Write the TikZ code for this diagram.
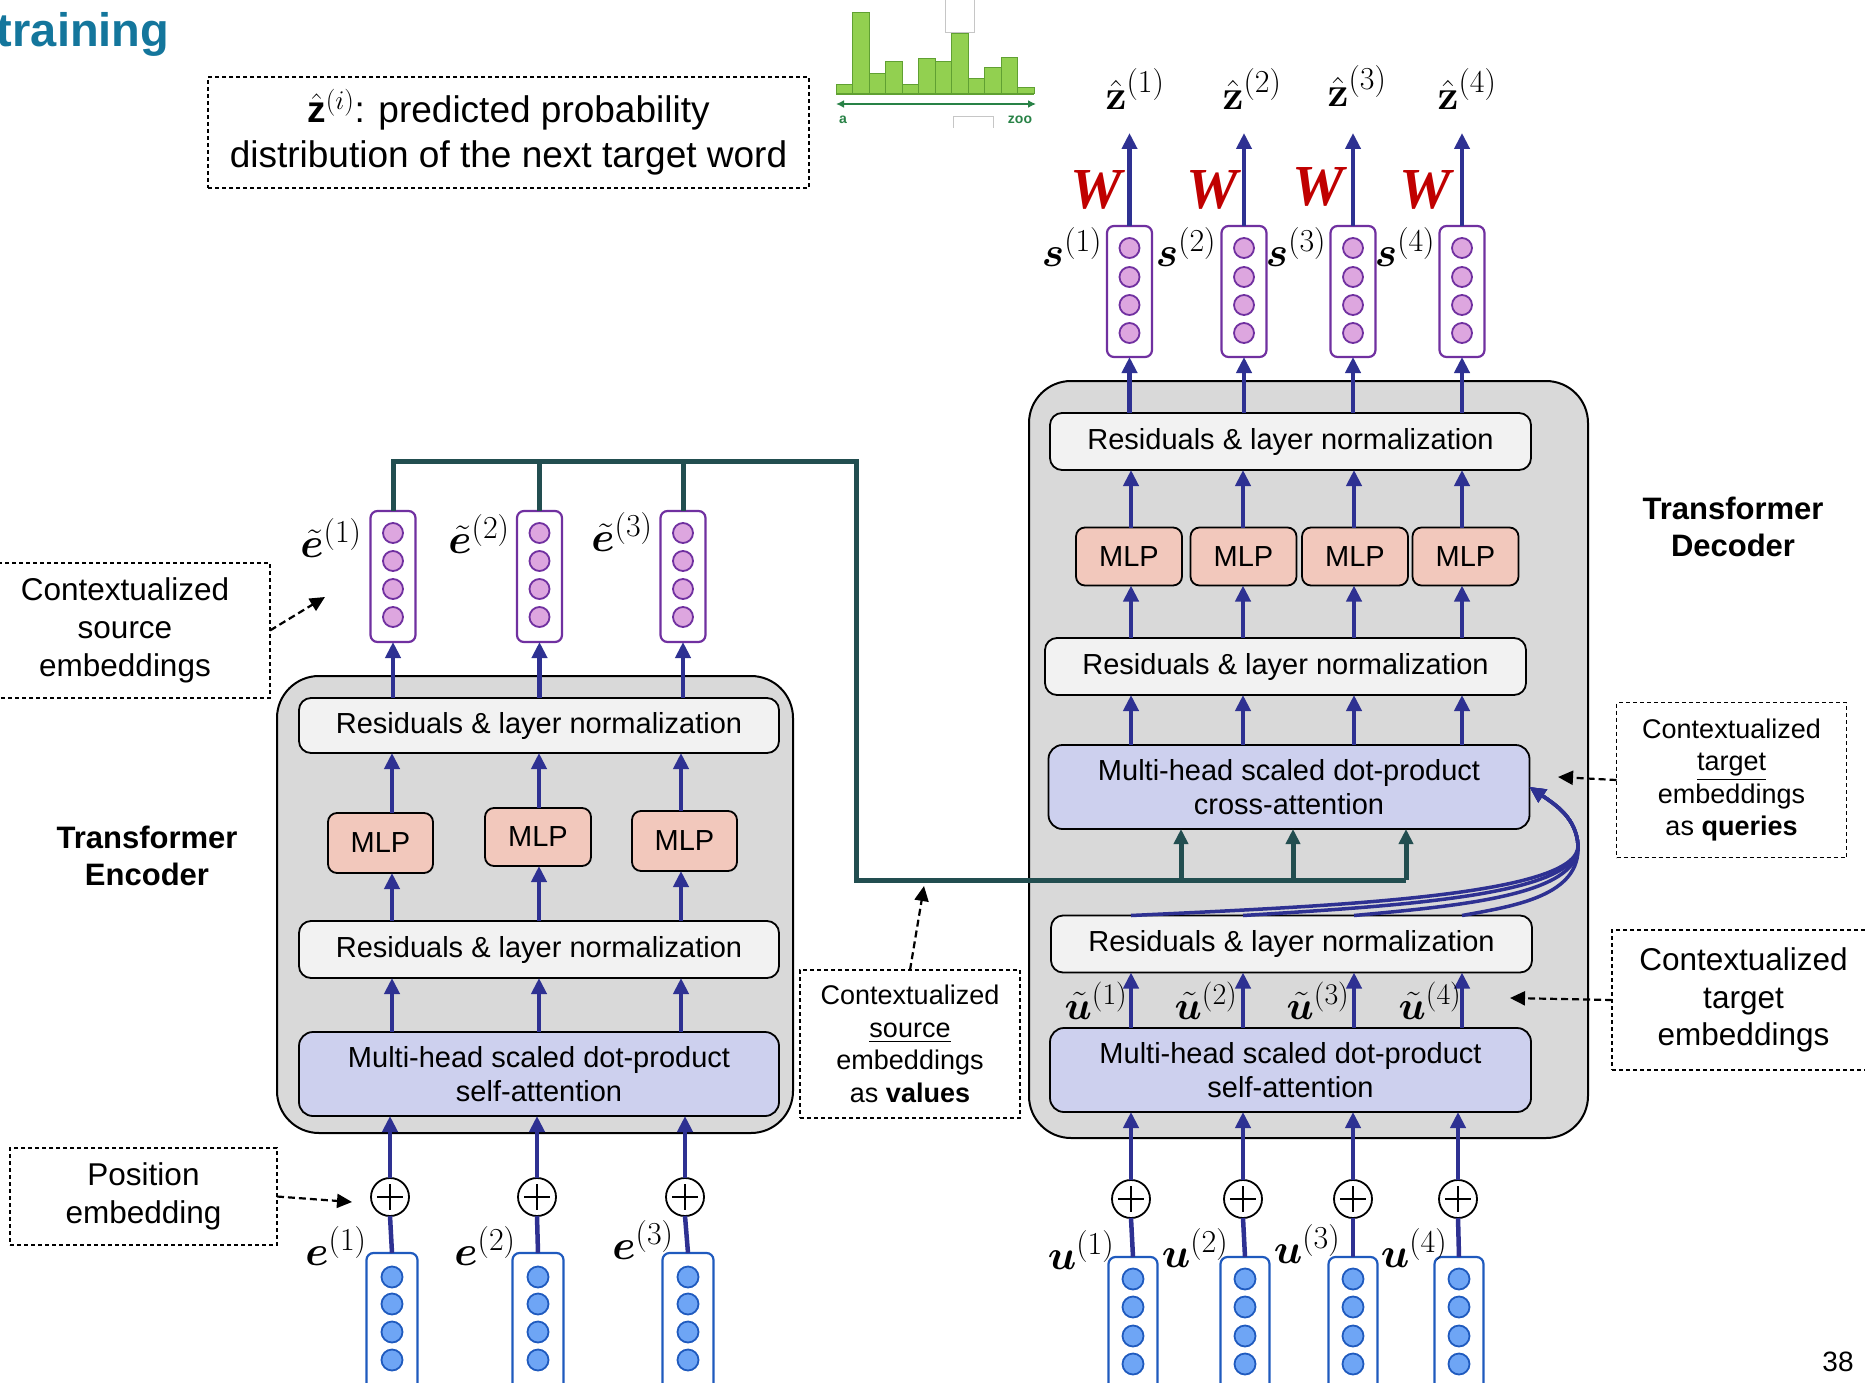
\RequirePackage{fix-cm}
\documentclass[tikz,border=0pt]{standalone}
\usepackage{amsmath}
\usepackage{bm}
\usepackage{fontspec}
\setmainfont{Liberation Sans}
\newfontfamily\serifW{Liberation Serif}
\usetikzlibrary{arrows.meta,calc}
\DeclareMathSizes{42}{42}{32}{24}
\DeclareMathSizes{40}{40}{30}{22}
\DeclareMathSizes{37}{37}{27}{20}
\definecolor{arrblue}{RGB}{46,49,146}
\definecolor{tealc}{RGB}{34,78,80}
\definecolor{boxgray}{RGB}{217,217,217}
\definecolor{resgray}{RGB}{242,242,242}
\definecolor{mlpfill}{RGB}{242,200,188}
\definecolor{attfill}{RGB}{205,208,238}
\definecolor{vpurple}{RGB}{112,48,160}
\definecolor{vplum}{RGB}{221,166,223}
\definecolor{vblue}{RGB}{31,90,190}
\definecolor{vlblue}{RGB}{110,165,245}
\definecolor{wred}{RGB}{192,0,0}
\definecolor{titleblue}{RGB}{20,118,156}
\definecolor{histg}{RGB}{146,208,80}
\definecolor{histgd}{RGB}{96,160,50}
\definecolor{histarr}{RGB}{40,130,70}
\newcommand{\fsz}[2]{\fontsize{#1}{#2}\selectfont}
\begin{document}
\begin{tikzpicture}[x=1pt,y=-1pt,
 every node/.style={inner sep=0pt,outer sep=0pt},
 outerbox/.style={draw=black,line width=2pt,fill=boxgray,rounded corners=42pt},
 resbox/.style={draw=black,line width=1.8pt,fill=resgray,rounded corners=12pt,minimum width=481pt,minimum height=57pt,font=\fsz{29}{34.5}},
 attbox/.style={draw=black,line width=1.8pt,fill=attfill,rounded corners=14pt,minimum width=481pt,minimum height=84pt,font=\fsz{29}{34.5},align=center},
 mlpbox/.style={draw=black,line width=1.8pt,fill=mlpfill,rounded corners=9pt,minimum width=106pt,minimum height=58pt,font=\fsz{29}{34.5}},
 vecP/.style={draw=vpurple,line width=2.2pt,fill=white,rounded corners=7pt,minimum width=45pt,minimum height=131pt},
 dotP/.style={circle,draw=vpurple,line width=1.8pt,fill=vplum,minimum size=20pt},
 vecB/.style={draw=vblue,line width=2.2pt,fill=white,rounded corners=7pt,minimum width=51pt,minimum height=150pt},
 dotB/.style={circle,draw=vblue,line width=1.8pt,fill=vlblue,minimum size=21pt},
 plusnode/.style={circle,draw=black,line width=1.8pt,fill=white,minimum size=38pt,
   path picture={\draw[line width=1.8pt] ([yshift=-6pt]path picture bounding box.north) -- ([yshift=6pt]path picture bounding box.south);
                 \draw[line width=1.8pt] ([xshift=6pt]path picture bounding box.west) -- ([xshift=-6pt]path picture bounding box.east);}},
 barr/.style={draw=arrblue,line width=4.5pt,-{Triangle[width=15pt,length=16pt]}},
 bline/.style={draw=arrblue,line width=4.5pt},
 curvearr/.style={draw=arrblue,line width=3.5pt,-{Triangle[width=15pt,length=16pt]}},
 tealln/.style={draw=tealc,line width=5pt},
 tealarr/.style={draw=tealc,line width=5pt,-{Triangle[width=14pt,length=15pt]}},
 dashbox/.style={draw=black,line width=1.5pt,dash pattern=on 4pt off 3pt,fill=white},
 dasharr/.style={draw=black,line width=2.2pt,dash pattern=on 7pt off 4pt,-{Triangle[width=14pt,length=15pt]}},
 mathlbl/.style={font=\fsz{42}{48}},
 wlbl/.style={font=\fsz{58}{60}\serifW\bfseries\itshape,text=wred},
 callout/.style={dashbox,align=center,font=\fsz{31.5}{38}},
 smallcallout/.style={dashbox,align=center,font=\fsz{27}{32.5}},
]
\useasboundingbox (0,0) rectangle (1865,1383);

% title
\node[anchor=base west,font=\fsz{47}{56}\bfseries,text=titleblue] (title) at (-3,47) {training};

% top dashed box
\node[dashbox,minimum width=601pt,minimum height=111pt,align=center,font=\fsz{37}{45}] (topbox) at (508.5,132.5)
  {$\hat{\mathbf{z}}^{(i)}$: predicted probability\\distribution of the next target word};

% histogram
\foreach \i/\t in {0/85,1/13,2/74,3/62,4/85,5/59,6/62,7/34,8/79,9/68,10/58,11/88}
  \draw[fill=histg,draw=histgd,line width=1pt] ({836+16.5*\i},94) rectangle ({836+16.5*(\i+1)},\t);
\draw[histgd,line width=1.5pt] (836,94) -- (1034,94);
\draw[histarr,line width=2.5pt,{Latex[length=8pt,width=8pt]}-{Latex[length=8pt,width=8pt]}] (836,104) -- (1036,104);
\node[text=histarr,font=\fsz{14}{16}\bfseries] (ha) at (843,120) {a};
\node[text=histarr,font=\fsz{14}{16}\bfseries] (hz) at (1020,120) {zoo};
\draw[gray!45,line width=1pt] (945,0) -- (945,33) -- (974,33) -- (974,0);
\draw[gray!45,line width=1pt] (953,128) -- (953,117) -- (993,117) -- (993,128);

% outer boxes
\node[outerbox,minimum width=516pt,minimum height=457pt] (encOuter) at (535,904.5) {};
\node[outerbox,minimum width=559pt,minimum height=757pt] (decOuter) at (1308.5,759.5) {};

% encoder inner
\node[resbox,minimum width=480pt,minimum height=55pt] (encResTop) at (539,725.5) {Residuals \& layer normalization};
\node[mlpbox,minimum width=105pt,minimum height=60pt] (emlp1) at (380.5,843) {MLP};
\node[mlpbox,minimum width=106pt,minimum height=58pt] (emlp2) at (538,837) {MLP};
\node[mlpbox,minimum width=105pt,minimum height=60pt] (emlp3) at (684.5,841) {MLP};
\node[resbox,minimum width=480pt] (encResLow) at (539,949.5) {Residuals \& layer normalization};
\node[attbox,minimum width=480pt] (encSelf) at (539,1074) {Multi-head scaled dot-product\\self-attention};

% decoder inner
\node[resbox] (decResTop) at (1290.5,441.5) {Residuals \& layer normalization};
\node[mlpbox] (dmlp1) at (1129,556.5) {MLP};
\node[mlpbox] (dmlp2) at (1243.5,556.5) {MLP};
\node[mlpbox] (dmlp3) at (1355,556.5) {MLP};
\node[mlpbox] (dmlp4) at (1465.5,556.5) {MLP};
\node[resbox] (decResMid) at (1285.5,666.5) {Residuals \& layer normalization};
\node[attbox] (decCross) at (1289,787) {Multi-head scaled dot-product\\cross-attention};
\node[resbox] (decResLow) at (1291.5,944) {Residuals \& layer normalization};
\node[attbox] (decSelf) at (1290.5,1070) {Multi-head scaled dot-product\\self-attention};

% columns
\coordinate (ec1) at (392,0); \coordinate (ec2) at (539,0); \coordinate (ec3) at (681,0);
\coordinate (dc1) at (1131,0); \coordinate (dc2) at (1243,0); \coordinate (dc3) at (1354,0); \coordinate (dc4) at (1462,0);
\coordinate (ztop) at (0,133);

% vectors
\foreach \n/\x in {1/393,2/539.5,3/683}{
  \node[vecP] (et\n) at (\x,576.5) {};
  \foreach \k/\yy in {1/533,2/561,3/589,4/617} \node[dotP] (et\n-\k) at (\x,\yy) {};
}
\foreach \n/\x in {1/1129.5,2/1244,3/1353,4/1462}{
  \node[vecP] (st\n) at (\x,291.5) {};
  \foreach \k/\yy in {1/248,2/277,3/305,4/333} \node[dotP] (st\n-\k) at (\x,\yy) {};
}
\foreach \n/\x in {1/392,2/538,3/688}{
  \node[vecB] (e\n) at (\x,1328) {};
  \foreach \k/\yy in {1/1277,2/1304,3/1332,4/1360} \node[dotB] (e\n-\k) at (\x,\yy) {};
}
\foreach \n/\x in {1/1133,2/1245,3/1353,4/1459}{
  \node[vecB,minimum width=49pt] (u\n) at (\x,1332) {};
  \foreach \k/\yy in {1/1279,2/1307,3/1336,4/1364} \node[dotB] (u\n-\k) at (\x,\yy) {};
}

% plus nodes
\node[plusnode] (pe1) at (390,1197) {};
\node[plusnode] (pe2) at (537,1197) {};
\node[plusnode] (pe3) at (685,1197) {};
\node[plusnode] (pd1) at (1131,1199) {};
\node[plusnode] (pd2) at (1243,1199) {};
\node[plusnode] (pd3) at (1353,1199) {};
\node[plusnode] (pd4) at (1458,1199) {};

% encoder arrows
\foreach \n in {1,2,3}{
  \draw[bline] (e\n.north) -- (pe\n.south);
  \draw[barr] (pe\n.north) -- (pe\n.north |- encSelf.south);
  \draw[barr] (encSelf.north -| ec\n) -- (encResLow.south -| ec\n);
  \draw[barr] (encResLow.north -| ec\n) -- (emlp\n.south -| ec\n);
  \draw[barr] (emlp\n.north -| ec\n) -- (encResTop.south -| ec\n);
  \draw[barr] (encResTop.north -| et\n) -- (et\n.south);
}

% teal bus
\coordinate (busTL) at (856,461);
\coordinate (busBL) at (856,880);
\coordinate (busEnd) at (1406,880);
\draw[tealln] (et1.north) -- (et1.north |- busTL) -- (busTL) -- (busBL) -- (busEnd);
\draw[tealln] (et2.north) -- (et2.north |- busTL);
\draw[tealln] (et3.north) -- (et3.north |- busTL);
\foreach \n/\x in {1/1181,2/1293,3/1406}{
  \coordinate (ta\n) at (\x,880);
  \draw[tealarr] (ta\n) -- (ta\n |- decCross.south);
}

% decoder arrows
\foreach \n in {1,2,3,4}{
  \draw[bline] (u\n.north) -- (pd\n.south);
  \draw[barr] (pd\n.north) -- (pd\n.north |- decSelf.south);
  \draw[barr] (decSelf.north -| dc\n) -- (decResLow.south -| dc\n);
  \draw[barr] (decCross.north -| dc\n) -- (decResMid.south -| dc\n);
  \draw[barr] (decResMid.north -| dc\n) -- (dmlp\n.south -| dc\n);
  \draw[barr] (dmlp\n.north -| dc\n) -- (decResTop.south -| dc\n);
  \draw[barr] (decResTop.north -| st\n) -- (st\n.south);
  \draw[barr] (st\n.north) -- (st\n.north |- ztop);
}
% query curves
\foreach \n/\x in {1/1131,2/1243,3/1354,4/1462}{
  \draw[curvearr] (decResLow.north -| dc\n) .. controls ({\x+0.45*(1578-\x)},906) and (1581,896) .. (1578,845)
     .. controls (1576,818) and (1556,805) .. (decCross.east);
}

% math labels
\foreach \n/\x/\y in {1/1135/89,2/1252/89,3/1357/86,4/1467/89}
  \node[mathlbl] (zh\n) at (\x,\y) {$\bm{\hat{\mathbf{z}}}^{(\n)}$};
\foreach \n/\x/\y in {1/1096/190,2/1212/190,3/1318/187,4/1425/190}
  \node[wlbl] (w\n) at (\x,\y) {W};
\foreach \n/\x in {1/1072,2/1186,3/1296,4/1405}
  \node[mathlbl] (sl\n) at (\x,247) {$\bm{s}^{(\n)}$};
\foreach \n/\x/\y in {1/331/538,2/479/534,3/622/532}
  \node[mathlbl] (etl\n) at (\x,\y) {$\bm{\tilde{e}}^{(\n)}$};
\foreach \n/\x/\y in {1/336/1246,2/485/1246,3/643/1240}
  \node[mathlbl] (el\n) at (\x,\y) {$\bm{e}^{(\n)}$};
\foreach \n/\x/\y in {1/1081/1250,2/1195/1248,3/1307/1244,4/1414/1248}
  \node[mathlbl] (ul\n) at (\x,\y) {$\bm{u}^{(\n)}$};
\foreach \n/\x in {1/1096,2/1206,3/1318,4/1430}
  \node[font=\fsz{40}{44}] (utl\n) at (\x,1001) {$\bm{\tilde{u}}^{(\n)}$};

% section labels
\node[font=\fsz{31}{37}\bfseries,align=center] (encLabel) at (147,856) {Transformer\\Encoder};
\node[font=\fsz{31}{37}\bfseries,align=center] (decLabel) at (1733,527) {Transformer\\Decoder};

% callouts
\node[callout,minimum width=290pt,minimum height=135pt] (srcbox) at (125,630.5) {Contextualized\\source\\embeddings};
\coordinate (srcTip) at (325,597);
\draw[dasharr] (srcbox.east) -- (srcTip);

\node[callout,minimum width=267pt,minimum height=97pt] (posbox) at (143.5,1196.5) {Position\\embedding};
\coordinate (posTip) at (352,1202);
\draw[dasharr] (posbox.east) -- (posTip);

\node[smallcallout,minimum width=220pt,minimum height=148pt] (valbox) at (910,1044) {Contextualized\\\underline{source}\\embeddings\\as \textbf{values}};
\coordinate (valTip) at (924,886);
\draw[dasharr] (valbox.north) -- (valTip);

\node[smallcallout,minimum width=230pt,minimum height=155pt] (qbox) at (1731.5,780) {Contextualized\\\underline{target}\\embeddings\\as \textbf{queries}};
\coordinate (qTip) at (1558,777);
\draw[dasharr] (qbox.west) -- (qTip);

\node[callout,minimum width=263pt,minimum height=140pt,font=\fsz{31.5}{37.5}] (tgtbox) at (1743.5,1000) {Contextualized\\target\\embeddings};
\coordinate (tgtTip) at (1510,998);
\draw[dasharr] (tgtbox.west) -- (tgtTip);

% page number
\node[font=\fsz{28}{30}] (pg) at (1838,1362) {38};
\end{tikzpicture}
\end{document}
